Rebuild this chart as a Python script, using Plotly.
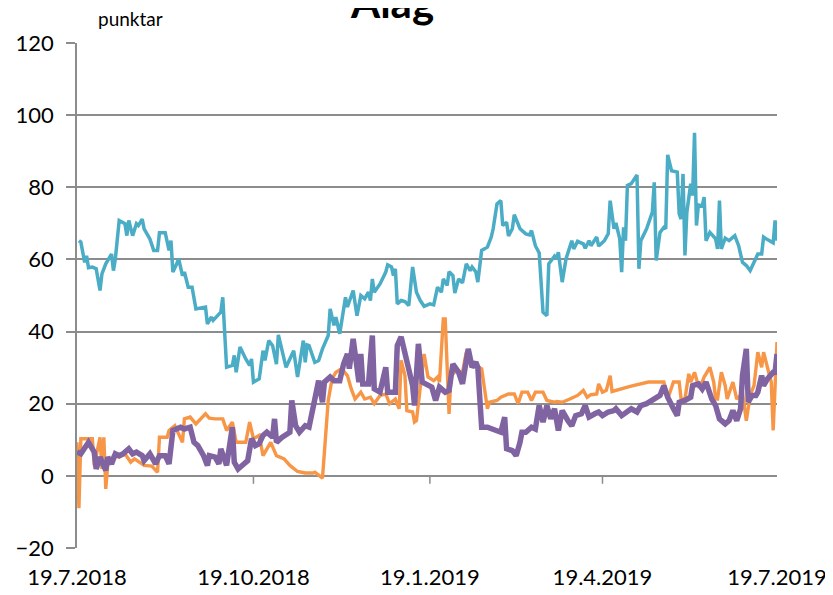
import pandas as pd
import plotly.graph_objects as go

start_date = "2018-07-19"

# Blue (teal) series: days since 19.7.2018, values in punktar
teal_days = [1,2,4,5,6,8,10,12,13,15,
             18,19,20,22,25,26,27,29,31,32,
             34,35,38,40,42,43,46,48,49,50,
             52,53,55,56,58,60,62,67,68,70,
             71,75,76,78,81,82,83,85,88,90,
             91,92,95,97,98,100,102,104,105,107,
             109,113,115,118,119,120,121,124,126,128,
             131,132,134,135,137,140,141,144,146,148,
             150,152,153,154,155,158,161,162,164,165,
             166,167,169,171,173,175,177,179,181,184,
             186,188,190,191,193,194,196,197,199,201,
             203,205,206,208,209,211,214,216,217,219,
             221,222,224,225,227,228,231,234,236,237,
             239,241,243,245,246,249,250,251,253,255,
             258,259,261,264,265,267,268,271,272,275,
             277,278,280,281,283,284,285,286,287,289,
             292,293,294,297,300,301,302,304,306,307,
             308,310,313,314,315,316,317,318,320,321,
             322,323,324,326,327,328,330,333,334,335,
             336,338,340,343,345,347,349,351,353,355,
             357,358,360,363,364,365]
teal_values = [65.2,64.8,59.2,61,57.7,57.9,57.4,51.4,56,58.8,
               61.5,56.9,60.2,70.8,69.9,66.6,70.8,66.6,69.9,69.4,
               71.2,68.5,65.7,62.5,62.5,67.4,67.4,62.5,65.2,56.5,
               58.8,60.2,55.5,56.5,52.3,52.3,46.3,46.8,42.1,44,
               43.1,45.4,49.5,30.1,30.6,33.4,28.7,35.7,32.4,30.6,
               32.4,26,26.9,34.7,32,37.5,36.1,31,39.1,34.3,
               30.1,34.7,27.4,37.5,31.5,36.3,36.1,31.5,32,35.2,
               38.9,46.3,41.7,44,39.4,49.5,46.8,51.4,44.4,50,
               49.1,50.9,48.6,54.6,50.9,53.2,56.5,58.5,57.9,55.5,
               57.4,47.7,48.6,48.3,47.2,57.9,50.9,48.6,47,47.7,
               47.4,52.3,50.9,54.6,52.8,56.6,55.5,50.7,54.6,53.5,
               58.8,56.9,57.9,56.5,53.7,62.5,63.4,66.2,68.5,75.4,
               76.3,69.4,70.3,66.5,68.5,72.4,68.5,67.1,66.8,68,
               63.8,61.8,45.4,44.4,58.8,60.9,60.2,62,53.7,60.2,
               65.2,62.9,65,64.3,63.1,65.2,63.8,66.2,63.7,65.2,
               67.1,76.3,68.5,70.1,65.7,56.5,68.9,65.2,80.5,81,
               83.4,57.4,65.2,68.5,73.1,81.4,59.7,67.5,68.9,68.5,
               89,84.6,84.2,72.6,71.2,83.7,61.1,73.1,81,77.7,
               95.1,69.4,75.1,74.8,77.3,65.2,67.5,65.7,62.9,76.3,
               62.9,65.9,65.2,66.6,63.8,59.2,58.3,56.9,59.2,61.5,
               61.5,66.2,65.5,64.6,70.8,65.2]

# Orange series
orange_days = [0,1,2,8,9,12,13,14,15,16,
               19,22,25,28,30,34,35,39,42,43,
               47,48,51,55,56,59,62,67,69,72,
               76,78,81,83,85,88,90,92,95,97,
               101,104,108,111,115,119,123,124,128,131,
               133,135,138,141,143,145,148,150,153,155,
               158,161,163,166,168,169,171,172,175,176,
               177,179,181,183,186,188,189,191,192,194,
               195,198,201,203,206,208,211,214,215,219,
               221,225,228,230,232,235,237,239,243,245,
               249,250,253,257,261,264,266,268,271,272,
               274,276,278,279,283,287,290,294,298,302,
               306,308,311,314,315,317,319,320,322,324,
               326,327,330,332,333,334,336,338,339,342,
               344,346,347,349,351,353,355,357,358,360,
               362,363,364,365]
orange_values = [9.3,-9,10.3,10.3,2.9,10.7,1.9,10.7,-3.6,2.9,
                 5.6,5.2,6.1,3.8,4.7,3.3,2.9,2.7,1.0,10.7,
                 10.7,12.6,13.9,9.3,15.8,16.3,14.4,17.2,16,15.8,
                 15.8,12.6,14.9,9.3,9.3,9.3,14.9,10.3,11.2,5.6,
                 9.3,5.6,4.7,2.9,1.2,0.8,0.8,1.0,-0.6,20.9,
                 26.9,28.7,29.7,27.8,24.1,21.3,23.2,21.3,21.8,20,
                 22.3,22.7,20,21.3,18.6,32,27.8,18.1,17.7,14.9,
                 15.3,24.1,33.8,27.4,26.4,27.4,26,43.5,43.5,17.2,
                 27.8,29.2,28.7,34.3,31,30.6,29.7,18.6,20.4,20.9,
                 21.8,22.7,22.7,20,23.2,23.2,20.9,23.2,23.2,20.9,
                 20.4,20.6,20.4,21.3,22.3,23.7,21.8,22.5,22.7,25.5,
                 23.2,23.7,27.8,23.4,24.1,24.6,25,25.5,26,26,
                 26,21.3,26,26,21.3,21.3,28.3,26,28.7,25,
                 26,27.4,30.1,26,21.3,21.3,28.7,25,21.3,26,
                 21.3,22.3,23.2,15.3,22.3,25,34.3,30.1,34.3,30.1,
                 26,12.6,27.8,37.1]

# Purple series
purple_days = [0,2,6,9,10,12,15,16,18,20,
               22,24,27,29,31,34,35,38,41,43,
               46,48,50,54,56,59,61,63,66,68,
               69,72,74,75,78,81,82,84,87,89,
               91,93,95,97,99,102,103,104,107,109,
               111,112,114,116,119,121,123,124,126,128,
               129,132,134,137,139,141,142,144,147,148,
               149,152,154,155,158,161,162,166,167,169,
               172,175,176,178,180,182,185,187,189,192,
               194,196,199,201,202,204,206,208,209,211,
               214,218,221,223,224,227,229,231,232,234,
               237,239,241,243,245,247,249,251,253,256,
               258,260,263,265,267,270,272,274,277,280,
               281,284,287,289,292,294,297,300,302,304,
               306,308,311,313,314,317,320,321,324,326,
               328,331,333,335,338,340,342,344,346,347,
               349,350,352,354,355,357,358,360,363,364,
               365]
purple_values = [6.6,6.1,9.3,6.6,1.9,5.2,1.5,5.2,3.3,6.1,
                 5.6,6.1,7.5,6.1,6.6,5.6,4.2,6.1,3.3,5.6,
                 5.6,3.3,12.6,13.5,13,13.5,9.3,8.4,5.6,2.9,
                 5.6,5.2,3.3,7.5,2.9,13.5,3.8,1.9,3.3,4.2,
                 10.3,8.4,8.9,11.2,12.1,10.7,15.8,9.3,10.7,11.6,
                 12.1,20.9,13.9,12.1,13.9,13.5,18.6,20.4,26.4,20.4,
                 26,27.4,26.4,26.4,31,33.8,29.7,38,26,33.8,
                 25.5,25.5,38.9,24.1,23.2,30.1,23.2,23.2,36.1,38.5,
                 32.4,25,19.5,36.6,26,25.5,24.6,20.9,24.6,23.2,
                 23.7,31,28.7,25.5,28.7,35.2,30.1,31.5,30.1,13.5,
                 13.5,12.6,12.1,16.3,7.5,7,5.6,9.3,12.1,12.1,
                 13.5,13,19.5,14.9,19.5,15.8,18.6,12.6,18.1,15.3,
                 13.9,16.7,17.2,19.5,16.3,17.2,17.7,16.7,17.7,18.1,
                 18.6,16.7,17.7,18.6,17.7,19.5,20,20.9,21.3,22.3,
                 25,21.8,18.6,16.7,20.4,20.9,21.8,25,25.5,24.1,
                 26,21.3,19.5,15.8,14.4,15.3,18.1,15.3,18.6,27.8,
                 35.2,20.4,22.3,22.3,23.2,27.8,25,26.9,28.7,28.7,
                 33.8]

tick_dates = ["2018-07-19", "2018-10-19", "2019-01-19", "2019-04-19", "2019-07-19"]
tick_labels = ["19.7.2018", "19.10.2018", "19.1.2019", "19.4.2019", "19.7.2019"]
y_ticks = [-20, 0, 20, 40, 60, 80, 100, 120]

title_text = "Álag"
unit_text = "punktar"

t0 = pd.Timestamp(start_date)
def to_dates(days):
    return [t0 + pd.Timedelta(days=d) for d in days]

FONT = "Lato, 'Open Sans', Arial, sans-serif"
GRID = "#8c8c8c"

# the page body adds an 8 px margin, so the figure is 8 px smaller and offsets shifted
W, H = 825, 587
L, R, T, B = 69, 56, 35, 47
PW, PH = W - L - R, H - T - B

fig = go.Figure()
fig.add_trace(go.Scatter(x=to_dates(teal_days), y=teal_values, mode="lines",
                         line=dict(color="#4BACC6", width=3.5), name="A"))
fig.add_trace(go.Scatter(x=to_dates(orange_days), y=orange_values, mode="lines",
                         line=dict(color="#F79646", width=3.4), name="B"))
fig.add_trace(go.Scatter(x=to_dates(purple_days), y=purple_values, mode="lines",
                         line=dict(color="#8064A2", width=5.5), name="C"))

# small tick marks on the zero line at each date tick
for td in tick_dates[1:-1]:
    fig.add_shape(type="line", xref="x", yref="y", x0=td, x1=td, y0=0, y1=-2.2,
                  line=dict(color=GRID, width=1.5))

fig.update_layout(
    width=W, height=H,
    margin=dict(l=L, r=R, t=T, b=B, autoexpand=False),
    paper_bgcolor="white", plot_bgcolor="white",
    showlegend=False,
    font=dict(family=FONT, size=21, color="#000000"),
    xaxis=dict(type="date", range=[tick_dates[0], tick_dates[-1]],
               tickvals=tick_dates, ticktext=tick_labels, automargin=False,
               showgrid=False, zeroline=False, showline=False, ticks="",
               ticklabelstandoff=14,
               tickfont=dict(family=FONT, size=22, color="#000")),
    yaxis=dict(range=[-20, 120], tickvals=y_ticks, automargin=False,
               showgrid=True, gridcolor=GRID, gridwidth=1.5,
               zeroline=True, zerolinecolor=GRID, zerolinewidth=1.5,
               showline=True, linecolor=GRID, linewidth=1.5,
               ticks="outside", ticklen=9, tickcolor=GRID, tickwidth=1.5,
               ticklabelstandoff=8,
               tickfont=dict(family=FONT, size=22, color="#000")),
    annotations=[
        dict(text="<b>" + title_text + "</b>", xref="paper", yref="paper",
             x=(384 - L) / PW, y=1 + (T - 21) / PH, xanchor="center", yanchor="bottom",
             showarrow=False, font=dict(family=FONT, size=42, color="#000")),
        dict(text=unit_text, xref="paper", yref="paper",
             x=(88 - L) / PW, y=1 + (T - 11) / PH, xanchor="left", yanchor="middle",
             showarrow=False, font=dict(family=FONT, size=19, color="#000")),
    ],
)

fig.write_html("out.html")
